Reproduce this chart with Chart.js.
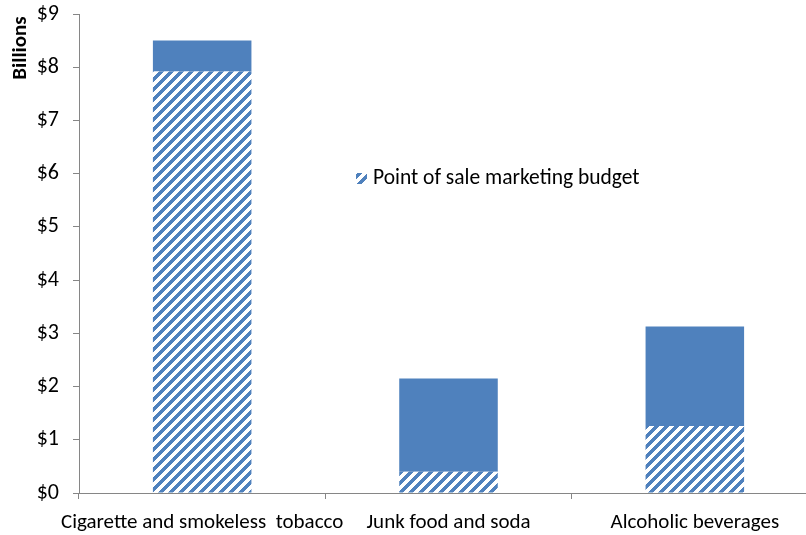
<!DOCTYPE html>
<html>
<head>
<meta charset="utf-8">
<script src="https://cdn.jsdelivr.net/npm/chart.js@4"></script>
<style>
  html, body { margin: 0; padding: 0; background: #fff; overflow: hidden; }
  #wrap { width: 819px; height: 535px; }
</style>
</head>
<body>
<div id="wrap"><canvas id="budgetChart"></canvas></div>
<script>
// Marketing spend, billions of dollars
const categories = ['Cigarette and smokeless  tobacco', 'Junk food and soda', 'Alcoholic beverages'];
const pointOfSale = [7.92, 0.4, 1.26];
const otherSpend = [0.58, 1.75, 1.87];
const yTicks = [0, 1, 2, 3, 4, 5, 6, 7, 8, 9];

const BLUE = '#4F81BD';
const FONT = "'Carlito', 'Liberation Sans Narrow', 'Liberation Sans', sans-serif";

// diagonal stripe fill, drawn per pixel so the tile repeats without seams
function makeHatch() {
    const size = 10;
    const stripe = 5;
    const c = document.createElement('canvas');
    c.width = size;
    c.height = size;
    const g = c.getContext('2d');
    const img = g.createImageData(size, size);
    for (let y = 0; y < size; y++) {
        for (let x = 0; x < size; x++) {
            const d = (x + y) % size;
            const i = (y * size + x) * 4;
            const on = d < stripe;
            img.data[i] = on ? 0x4F : 255;
            img.data[i + 1] = on ? 0x81 : 255;
            img.data[i + 2] = on ? 0xBD : 255;
            img.data[i + 3] = 255;
        }
    }
    g.putImageData(img, 0, 0);
    return g.createPattern(c, 'repeat');
}

const hatch = makeHatch();

// floating legend and rotated axis caption
const overlay = {
    id: 'overlay',
    afterDraw(chart) {
        const ctx = chart.ctx;
        ctx.save();
        ctx.fillStyle = '#000';
        ctx.font = 'bold 21px ' + FONT;
        ctx.translate(21, 48);
        ctx.rotate(-Math.PI / 2);
        ctx.textAlign = 'center';
        ctx.textBaseline = 'middle';
        ctx.fillText('Billions', 0, 0);
        ctx.restore();

        ctx.save();
        ctx.fillStyle = hatch;
        ctx.fillRect(356, 173, 11, 11);
        ctx.fillStyle = '#000';
        ctx.font = '21.5px ' + FONT;
        ctx.textBaseline = 'middle';
        ctx.fillText(chart.data.datasets[0].label, 373, 179);
        ctx.restore();
    }
};

new Chart(document.getElementById('budgetChart'), {
    type: 'bar',
    data: {
        labels: categories,
        datasets: [{
            label: 'Point of sale marketing budget',
            data: pointOfSale,
            backgroundColor: hatch,
            borderWidth: 0,
            barPercentage: 0.4,
            categoryPercentage: 1
        }, {
            label: 'Other',
            data: otherSpend,
            backgroundColor: BLUE,
            borderWidth: 0,
            barPercentage: 0.4,
            categoryPercentage: 1
        }]
    },
    options: {
        responsive: true,
        maintainAspectRatio: false,
        animation: false,
        layout: { padding: { top: 14, right: 1, left: 0, bottom: 0 } },
        plugins: {
            legend: { display: false },
            tooltip: { enabled: false }
        },
        scales: {
            x: {
                stacked: true,
                grid: {
                    offset: true,
                    drawOnChartArea: false,
                    drawTicks: true,
                    tickLength: 6,
                    color: '#868686'
                },
                border: { color: '#868686', width: 1 },
                ticks: {
                    color: '#000',
                    font: { family: FONT, size: 21 },
                    maxRotation: 0,
                    autoSkip: false,
                    padding: 11
                },
                afterFit(scale) { scale.height = 42; }
            },
            y: {
                stacked: true,
                min: 0,
                max: 9,
                grid: {
                    drawOnChartArea: false,
                    drawTicks: true,
                    tickLength: 6,
                    color: '#868686'
                },
                border: { color: '#868686', width: 1 },
                afterBuildTicks(scale) {
                    scale.ticks = yTicks.map(v => ({ value: v }));
                },
                ticks: {
                    color: '#000',
                    font: { family: FONT, size: 22 },
                    padding: 14,
                    callback: v => '$' + v
                },
                afterFit(scale) {
                    scale.width = 79;
                    scale.paddingTop = 0;
                    scale.paddingBottom = 0;
                }
            }
        }
    },
    plugins: [overlay]
});
</script>
</body>
</html>
